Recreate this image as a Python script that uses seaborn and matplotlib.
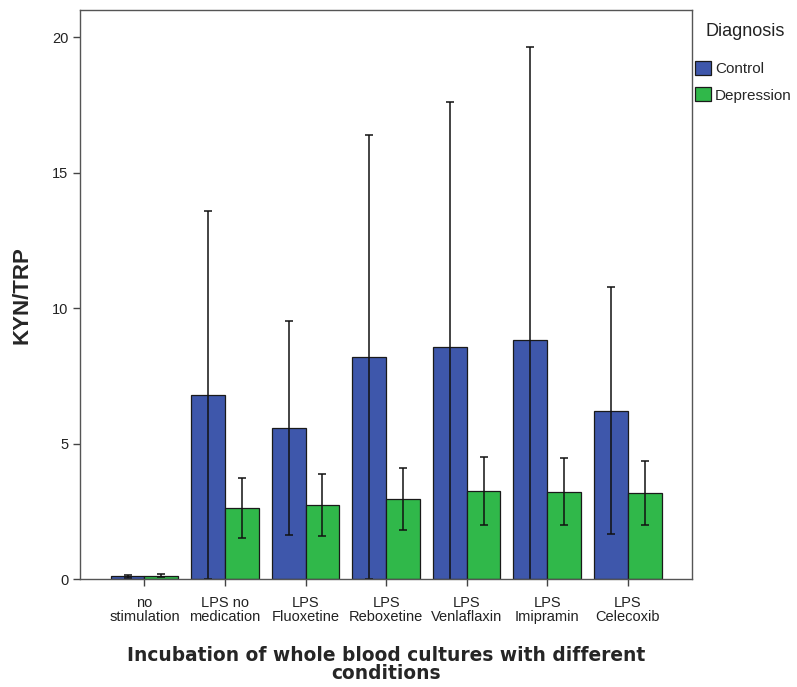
import matplotlib
matplotlib.use("Agg")
import matplotlib.pyplot as plt
from matplotlib.patches import Patch
import seaborn as sns
import pandas as pd
import numpy as np

conditions = ["no\nstimulation", "LPS no\nmedication", "LPS\nFluoxetine", "LPS\nReboxetine",
              "LPS\nVenlaflaxin", "LPS\nImipramin", "LPS\nCelecoxib"]
control_mean = [0.10, 6.79, 5.57, 8.19, 8.56, 8.84, 6.22]
control_err = [0.05, 6.79, 3.95, 8.19, 9.04, 10.80, 4.55]
depression_mean = [0.13, 2.63, 2.75, 2.96, 3.24, 3.23, 3.18]
depression_err = [0.06, 1.10, 1.14, 1.14, 1.25, 1.25, 1.19]

df = pd.DataFrame({
    "Condition": conditions * 2,
    "Diagnosis": ["Control"] * 7 + ["Depression"] * 7,
    "KYN/TRP": control_mean + depression_mean,
})

sns.set_style("white")
plt.rcParams["font.family"] = ["Liberation Sans", "DejaVu Sans"]

colors = {"Control": "#3E57AB", "Depression": "#30B84A"}

fig = plt.figure(figsize=(7.97, 6.87), dpi=100)
ax = fig.add_axes([0.1004, 0.157, 0.768, 0.8284])
sns.barplot(data=df, x="Condition", y="KYN/TRP", hue="Diagnosis", palette=colors,
            width=0.84, errorbar=None, saturation=1, edgecolor="#1a1a1a",
            linewidth=0.9, legend=False, ax=ax)

# error bars, one set per diagnosis
errs = {"Control": control_err, "Depression": depression_err}
for cont, level in zip(ax.containers, ["Control", "Depression"]):
    xs = [p.get_x() + p.get_width() / 2 for p in cont]
    ys = [p.get_height() for p in cont]
    ax.errorbar(xs, ys, yerr=errs[level], fmt="none", ecolor="#111111",
                elinewidth=1.1, capsize=3, capthick=1.1)

ax.set_ylim(0, 21)
ax.set_xlim(-0.8, 6.8)
ax.set_yticks([0, 5, 10, 15, 20])
ax.tick_params(axis="both", direction="out", length=5, width=1, color="#444444",
               labelsize=10.5, labelcolor="#222222", bottom=True, left=True)
ax.tick_params(axis="x", pad=7)
for lab in ax.get_xticklabels():
    lab.set_linespacing(1.0)
for s in ax.spines.values():
    s.set_color("#555555")
    s.set_linewidth(1.0)

ax.set_ylabel("KYN/TRP", fontsize=16, fontweight="bold", labelpad=14)
ax.set_xlabel("Incubation of whole blood cultures with different\nconditions",
              fontsize=13.4, fontweight="bold", family="DejaVu Sans", labelpad=16,
              linespacing=0.9)

fig.text(745.5 / 797, 1 - 31 / 687, "Diagnosis", ha="center", va="center",
         fontsize=13, color="#222222")
handles = [Patch(facecolor=colors[k], edgecolor="#1a1a1a", linewidth=0.9) for k in colors]
ax.legend(handles, list(colors), loc="upper left",
          bbox_to_anchor=(695 / 797, 1 - 61 / 687), bbox_transform=fig.transFigure,
          frameon=False, fontsize=11, handlelength=1.05, handleheight=1.05,
          handletextpad=0.25, labelspacing=0.72, borderaxespad=0, borderpad=0)

fig.savefig("out.png", dpi=100)
